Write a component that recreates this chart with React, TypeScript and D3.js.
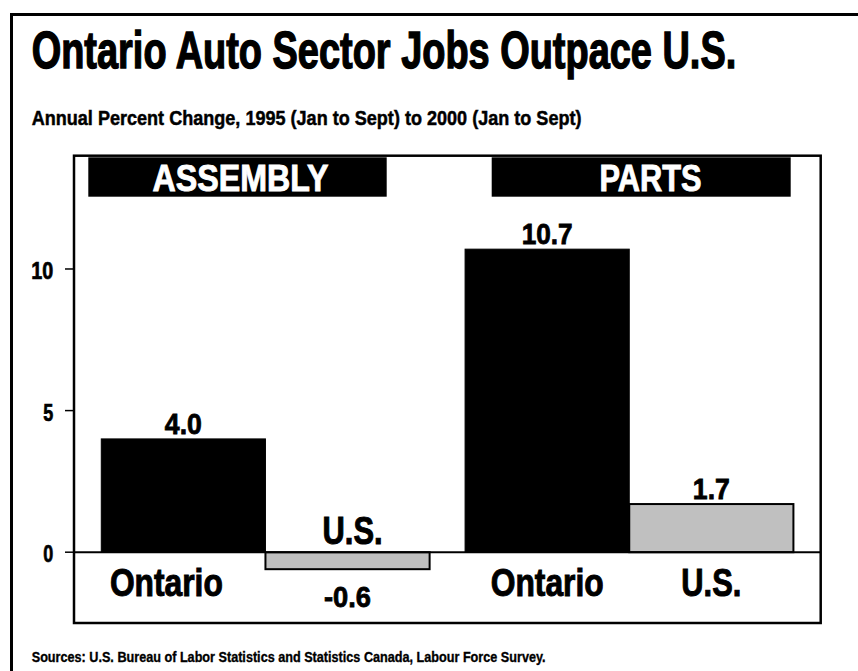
import React from "react";
import * as d3 from "d3";

const groups = ["ASSEMBLY", "PARTS"];
const regions = ["Ontario", "U.S."];
const ontarioValues = [4.0, 10.7];
const usValues = [-0.6, 1.7];
const yTicks = [0, 5, 10];

const TITLE = "Ontario Auto Sector Jobs Outpace U.S.";
const SUBTITLE = "Annual Percent Change, 1995 (Jan to Sept) to 2000 (Jan to Sept)";
const SOURCES = "Sources:  U.S. Bureau of Labor Statistics and Statistics Canada, Labour Force Survey.";

const W = 858;
const H = 671;
const FONT = "'Liberation Sans', Arial, Helvetica, sans-serif";

const plot = { left: 74, top: 155.7, right: 820.7, bottom: 623 };

// target rendered text widths (condensed face emulation)
const widths: Record<string, number> = {
  title: 706,
  subtitle: 550,
  sources: 518,
  ASSEMBLY: 176,
  PARTS: 102,
  Ontario: 113,
  "U.S.": 60,
  "4.0": 37,
  "10.7": 51,
  "1.7": 37,
  "-0.6": 47,
  "10": 22,
  "5": 10,
  "0": 10,
};

let ctx: CanvasRenderingContext2D | null = null;
function measure(text: string, size: number): number {
  if (!ctx && typeof document !== "undefined") {
    ctx = document.createElement("canvas").getContext("2d");
  }
  if (!ctx) return text.length * size * 0.6;
  ctx.font = `bold ${size}px ${FONT}`;
  return ctx.measureText(text).width;
}

type TProps = {
  x: number;
  y: number;
  size: number;
  w?: number;
  anchor?: "start" | "middle" | "end";
  fill?: string;
  sw?: number;
  children: string;
};

const T = ({ x, y, size, w, anchor = "start", fill = "#000", sw = 0.6, children }: TProps) => {
  const natural = measure(children, size);
  const s = w ? w / natural : 1;
  return (
    <text
      transform={`translate(${x},${y}) scale(${s},1)`}
      x={0}
      y={0}
      fontFamily={FONT}
      fontWeight="bold"
      fontSize={size}
      textAnchor={anchor}
      fill={fill}
      stroke={fill}
      strokeWidth={sw}
    >
      {children}
    </text>
  );
};

export default function App() {
  const y = d3.scaleLinear().domain([-2.5, 14]).range([plot.bottom, plot.top]);
  const xGroup = d3
    .scaleBand<string>()
    .domain(groups)
    .range([plot.left, plot.right])
    .paddingInner(0.0975)
    .paddingOuter(0.075);
  const xRegion = d3
    .scaleBand<string>()
    .domain(regions)
    .range([0, xGroup.bandwidth()])
    .padding(0);

  const bars = groups.flatMap((g, gi) => [
    { group: g, region: regions[0], value: ontarioValues[gi] },
    { group: g, region: regions[1], value: usValues[gi] },
  ]);

  // header boxes (decorative layout)
  const headers = [
    { label: groups[0], x0: 88.3, x1: 386.7, tx: 240.5 },
    { label: groups[1], x0: 491.7, x1: 790.7, tx: 650.5 },
  ];
  const catDx: Record<string, number> = { "ASSEMBLY|Ontario": -17, "ASSEMBLY|U.S.": 5 };

  const y0 = y(0);

  return (
    <svg
      width={W}
      height={H}
      viewBox={`0 0 ${W} ${H}`}
      style={{ position: "absolute", left: 0, top: 0, display: "block", background: "#fff" }}
    >
      <rect x={0} y={0} width={W} height={H} fill="#fff" />
      {/* outer frame */}
      <rect x={11.5} y={14.5} width={900} height={700} fill="none" stroke="#000" strokeWidth={3} />

      <T x={31.7} y={68.3} size={51} w={widths.title} sw={1.4}>{TITLE}</T>
      <T x={31.7} y={125} size={21} w={widths.subtitle} sw={0.5}>{SUBTITLE}</T>

      {/* plot frame */}
      <rect
        x={plot.left}
        y={plot.top}
        width={plot.right - plot.left}
        height={plot.bottom - plot.top}
        fill="#fff"
        stroke="#000"
        strokeWidth={2.5}
      />

      {/* headers */}
      {headers.map((h) => (
        <g key={h.label}>
          <rect x={h.x0} y={157.3} width={h.x1 - h.x0} height={39.4} fill="#000" />
          <T x={h.tx} y={190.7} size={37} w={widths[h.label]} anchor="middle" fill="#fff" sw={0.9}>
            {h.label}
          </T>
        </g>
      ))}

      {/* y ticks */}
      {yTicks.map((t) => (
        <g key={t}>
          <line x1={65} x2={plot.left} y1={y(t)} y2={y(t)} stroke="#000" strokeWidth={1.5} />
          <T x={53.3} y={y(t) + 10} size={24} w={widths[String(t)]} anchor="end" sw={0.7}>
            {String(t)}
          </T>
        </g>
      ))}

      {/* bars */}
      {bars.map((b) => {
        const bx = (xGroup(b.group) ?? 0) + (xRegion(b.region) ?? 0);
        const bw = xRegion.bandwidth();
        const top = y(Math.max(0, b.value));
        const bot = y(Math.min(0, b.value));
        const isOnt = b.region === regions[0];
        return (
          <rect
            key={b.group + b.region}
            x={bx}
            y={top}
            width={bw}
            height={bot - top}
            fill={isOnt ? "#000" : "#c0c0c0"}
            stroke="#000"
            strokeWidth={isOnt ? 1 : 2}
          />
        );
      })}

      {/* zero line */}
      <line x1={plot.left} x2={plot.right} y1={y0} y2={y0} stroke="#000" strokeWidth={2} />

      {/* labels */}
      {bars.map((b) => {
        const cx = (xGroup(b.group) ?? 0) + (xRegion(b.region) ?? 0) + xRegion.bandwidth() / 2;
        const label = b.value.toFixed(1);
        const pos = b.value >= 0;
        const valueY = pos ? y(b.value) - 5 : y(b.value) + 38;
        const catY = pos ? y0 + 44 : y0 - 8;
        const dx = catDx[b.group + "|" + b.region] ?? 0;
        return (
          <g key={"l" + b.group + b.region}>
            <T x={cx} y={valueY} size={29} w={widths[label]} anchor="middle" sw={0.8}>
              {label}
            </T>
            <T x={cx + dx} y={catY} size={38} w={widths[b.region]} anchor="middle" sw={1}>
              {b.region}
            </T>
          </g>
        );
      })}

      <T x={31.7} y={661.7} size={15} w={widths.sources} sw={0.35}>{SOURCES}</T>
    </svg>
  );
}
